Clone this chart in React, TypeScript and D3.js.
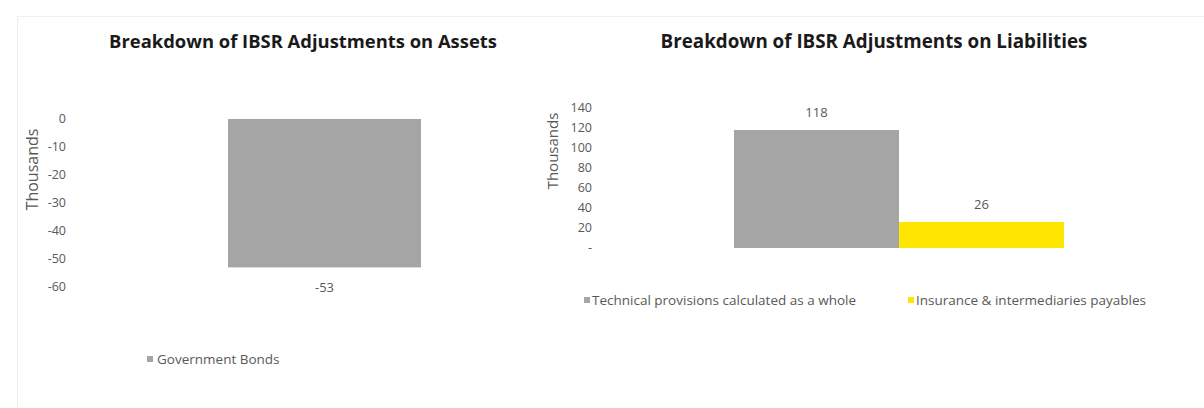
import React from "react";
import * as d3 from "d3";

const assetCategories = ["Government Bonds"];
const assetValues = [-53];
const assetTicks = [0, -10, -20, -30, -40, -50, -60];

const liabilityCategories = [
  "Technical provisions calculated as a whole",
  "Insurance & intermediaries payables",
];
const liabilityValues = [118, 26];
const liabilityTicks = [0, 20, 40, 60, 80, 100, 120, 140];

const colorsAssets = ["#A5A5A5"];
const colorsLiab = ["#A5A5A5", "#FFE600"];

const W = 1204;
const H = 408;
const tickColor = "#595959";
const font = "'Open Sans', 'Liberation Sans', sans-serif";

export default function App() {
  // Left chart scales
  const yL = d3.scaleLinear().domain([-60, 0]).range([287, 119]);
  const xL = d3.scaleBand<string>().domain(assetCategories).range([131.5, 517.5]).paddingInner(0).paddingOuter(0.5);

  // Right chart scales
  const yR = d3.scaleLinear().domain([0, 140]).range([248, 108]);
  const xR = d3.scaleBand<string>().domain(liabilityCategories).range([651.5, 1146.5]).paddingInner(0).paddingOuter(0.5);

  const legendRight = [
    { x: 584, label: liabilityCategories[0], color: colorsLiab[0] },
    { x: 908, label: liabilityCategories[1], color: colorsLiab[1] },
  ];

  return (
    <div style={{ position: "absolute", left: 0, top: 0 }}>
      <svg width={W} height={H} style={{ display: "block", background: "#fff" }} fontFamily={font}>
        <rect x={17.5} y={16.5} width={W - 17} height={H - 16} fill="none" stroke="#f0f0f0" />

        {/* Left chart */}
        <text x={303} y={48} textAnchor="middle" fontWeight="bold" fontSize={18.4} fill="#1a1a1a">
          Breakdown of IBSR Adjustments on Assets
        </text>
        <text transform={`translate(38,169.5) rotate(-90)`} textAnchor="middle" fontSize={16} fill={tickColor}>
          Thousands
        </text>
        {assetTicks.map((t) => (
          <text key={t} x={66} y={yL(t)} dy="0.35em" textAnchor="end" fontSize={12.5} fill={tickColor}>
            {t === 0 ? "0" : `-${Math.abs(t)}`}
          </text>
        ))}
        {assetCategories.map((c, i) => (
          <g key={c}>
            <rect
              x={xL(c)}
              y={yL(0)}
              width={xL.bandwidth()}
              height={yL(assetValues[i]) - yL(0)}
              fill={colorsAssets[i]}
            />
            <text x={(xL(c) as number) + xL.bandwidth() / 2} y={yL(assetValues[i]) + 25} textAnchor="middle" fontSize={13} fill={tickColor}>
              {`-${Math.abs(assetValues[i])}`}
            </text>
          </g>
        ))}
        <rect x={147} y={356} width={6} height={6} fill={colorsAssets[0]} />
        <text x={157} y={364} fontSize={13.5} fill={tickColor}>
          {assetCategories[0]}
        </text>

        {/* Right chart */}
        <text x={874} y={48} textAnchor="middle" fontWeight="bold" fontSize={18.8} fill="#1a1a1a">
          Breakdown of IBSR Adjustments on Liabilities
        </text>
        <text transform={`translate(558,151) rotate(-90)`} textAnchor="middle" fontSize={15} fill={tickColor}>
          Thousands
        </text>
        {liabilityTicks.map((t) => (
          <text key={t} x={592} y={yR(t)} dy="0.35em" textAnchor="end" fontSize={12.5} fill={tickColor}>
            {t === 0 ? "-" : String(t)}
          </text>
        ))}
        {liabilityCategories.map((c, i) => (
          <g key={c}>
            <rect
              x={xR(c)}
              y={yR(liabilityValues[i])}
              width={xR.bandwidth()}
              height={yR(0) - yR(liabilityValues[i])}
              fill={colorsLiab[i]}
            />
            <text x={(xR(c) as number) + xR.bandwidth() / 2} y={yR(liabilityValues[i]) - 13} textAnchor="middle" fontSize={13} fill={tickColor}>
              {liabilityValues[i]}
            </text>
          </g>
        ))}
        {legendRight.map((l) => (
          <g key={l.label}>
            <rect x={l.x} y={297} width={6} height={6} fill={l.color} />
            <text x={l.x + 8} y={305} fontSize={13.5} fill={tickColor}>
              {l.label}
            </text>
          </g>
        ))}
      </svg>
    </div>
  );
}
